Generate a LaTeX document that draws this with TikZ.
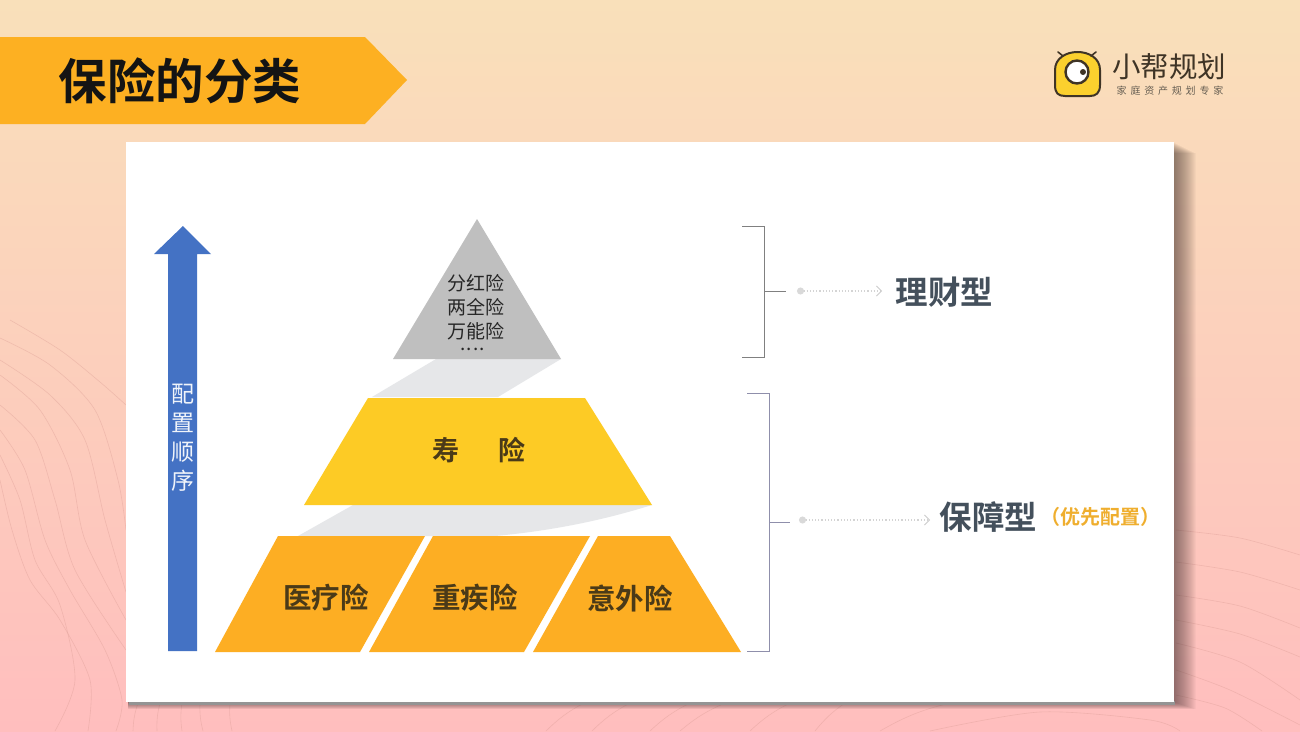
\documentclass[tikz,border=0pt]{standalone}
\usepackage{fontspec}
\setmainfont{Noto Sans CJK SC}
\newfontfamily\cjkreg{Noto Sans CJK SC}
\newfontfamily\cjkbold{Noto Sans CJK SC Bold}[BoldFont={Noto Sans CJK SC Bold}]
\newfontfamily\cjkspaced[LetterSpace=38]{Noto Sans CJK SC}
\usetikzlibrary{arrows.meta,calc}
\newcommand{\fsz}[1]{\fontsize{#1}{#1}\selectfont}
\definecolor{bannerc}{HTML}{FDB022}
\definecolor{orangec}{HTML}{FDAE23}
\definecolor{yellowc}{HTML}{FDCB25}
\definecolor{greyc}{HTML}{BFBFBF}
\definecolor{bandc}{HTML}{E6E7E9}
\definecolor{bluec}{HTML}{4472C4}
\definecolor{slatec}{HTML}{44505C}
\definecolor{amberc}{HTML}{EFAE2E}
\definecolor{inkc}{HTML}{4A3A18}
\definecolor{logoc}{HTML}{3F3426}
\definecolor{logoy}{HTML}{FBD02E}
\definecolor{wavec}{HTML}{D99A92}
\definecolor{bgtop}{HTML}{F9E0BA}
\definecolor{bgmid}{HTML}{FCD0B0}
\definecolor{bgbot}{HTML}{FFBEBE}
\definecolor{shadowc}{HTML}{3A2A2A}
\tikzset{
  x=1pt,y=-1pt,
  wave/.style={draw=wavec,line width=.6pt,opacity=.38},
  brack/.style={draw=#1,line width=.8pt},
  pointer/.style={draw=black!17,line width=1.2pt,dotted,{Circle[length=7pt,width=7pt,black!15]}-{Straight Barb[length=5pt,width=10pt,black!20,line width=.8pt]}},
  lab/.style={inner sep=0pt,text=inkc,font=\cjkbold\fsz{28.5}},
  small/.style={inner sep=0pt,text=black!85,font=\cjkreg\fsz{19}},
  side/.style={inner sep=0pt,text=slatec,font=\cjkbold\fsz{32.5}},
  vert/.style={inner sep=0pt,text=white!92!bluec,font=\cjkreg\fsz{23}},
}
\begin{document}
\begin{tikzpicture}
\useasboundingbox (0,0) rectangle (1300,731);
% background
\shade[top color=bgtop,middle color=bgmid,bottom color=bgbot] (0,0) rectangle (1300,731);
% waves left
\draw[wave] plot[smooth] coordinates {(10,320) (60,350) (100,382) (126,405)};
\draw[wave] plot[smooth] coordinates {(0,338) (50,365) (95,410) (118,480) (126,530)};
\draw[wave] plot[smooth] coordinates {(0,360) (50,395) (85,440) (105,520) (126,592)};
\draw[wave] plot[smooth] coordinates {(0,375) (40,410) (70,470) (85,540) (126,620)};
\draw[wave] plot[smooth] coordinates {(0,405) (35,440) (55,500) (75,570) (126,650)};
\draw[wave] plot[smooth] coordinates {(0,430) (25,470) (45,540) (70,590) (105,650) (122,700) (116,731)};
\draw[wave] plot[smooth] coordinates {(0,455) (20,500) (35,560) (60,605) (75,680) (55,731)};
\draw[wave] plot[smooth] coordinates {(0,480) (12,530) (30,580) (60,620) (90,680) (88,731)};
\foreach \a/\b in {138/133,160/157,182/182,200/203,230/232,584/546,630/592,690/650,725/680,790/750,845/815,950/880}{
  \draw[wave] (\a,703) to[bend right=8] (\b,731);}
% waves right
\draw[wave] plot[smooth] coordinates {(1176,530) (1240,538) (1300,555)};
\draw[wave] plot[smooth] coordinates {(1176,562) (1240,572) (1300,590)};
\draw[wave] plot[smooth] coordinates {(1176,595) (1240,606) (1300,628)};
\draw[wave] plot[smooth] coordinates {(1176,620) (1240,634) (1300,657)};
\draw[wave] plot[smooth] coordinates {(1176,643) (1240,662) (1300,700)};
\draw[wave] plot[smooth] coordinates {(1176,670) (1230,690) (1300,725)};
\draw[wave] plot[smooth] coordinates {(1176,695) (1225,708) (1262,731)};
\draw[wave] plot[smooth] coordinates {(930,731) (1040,712) (1150,720) (1180,731)};
% banner
\fill[bannerc] (0,37) -- (365,37) -- (407,80) -- (365,124) -- (0,124) -- cycle;
\node[inner sep=0pt,text=black!92,font=\cjkbold\fsz{48.5}] (title) at (180,81) {保险的分类};
% logo
\fill[logoy,draw=logoc,line width=2pt] (1055,70) .. controls (1055,46) and (1100,46) .. (1100,70) -- (1100,85) .. controls (1100,93) and (1096,96) .. (1090,96) -- (1065,96) .. controls (1058,96) and (1055,93) .. (1055,85) -- cycle;
\draw[logoc,line width=1.6pt,line cap=round] (1058,52) -- (1063,56) (1096,52) -- (1091,56);
\fill[white,draw=logoc,line width=2.4pt] (1077,72) circle (11.5);
\fill[logoc] (1083,72) circle (3);
\node[inner sep=0pt,text=logoc,font=\cjkreg\fsz{28.5}] (brand) at (1169,67) {小帮规划};
\node[inner sep=0pt,text=logoc!80,font=\cjkspaced\fsz{10}] (sub) at (1170,91) {家庭资产规划专家};
% card shadow
\foreach \i in {1,...,22}{
  \fill[shadowc,opacity=.032] (128,142+\i/2) rectangle (1174+\i,702+\i/3);}
\fill[black!42] (129,701) rectangle (1175,705);
\fill[white] (126,142) rectangle (1174,702);
% arrow
\fill[bluec] (168,651) -- (168,254) -- (154,254) -- (183,226) -- (211,254) -- (197,254) -- (197,651) -- cycle;
\node[vert] (v1) at (183,394) {配};
\node[vert] (v2) at (183,423) {置};
\node[vert] (v3) at (183,452) {顺};
\node[vert] (v4) at (183,481) {序};
% pyramid
\fill[bandc] (436,359) -- (561,359) -- (498,397) -- (372,397) -- cycle;
\fill[bandc] (353,505) -- (652,505) .. controls (610,518) and (560,530) .. (495,536) -- (298,536) -- cycle;
\fill[greyc] (477,219) -- (561,359) -- (393,359) -- cycle;
\fill[yellowc] (368,398) -- (585,398) -- (652,505) -- (304,505) -- cycle;
\fill[orangec] (278,536) -- (425,536) -- (360,652) -- (215,652) -- cycle;
\fill[orangec] (433,536) -- (590,536) -- (524,652) -- (369,652) -- cycle;
\fill[orangec] (598,536) -- (670,536) -- (741,652) -- (533,652) -- cycle;
\node[small] (t1) at (476,283) {分红险};
\node[small] (t2) at (476,307) {两全险};
\node[small] (t3) at (476,331) {万能险};
\node[inner sep=0pt,text=black!85,font=\cjkreg\fsz{19}] (t4) at (472.5,349.5) {.\hspace{1.2pt}.\hspace{1.2pt}.\hspace{1.2pt}.};
\node[lab,font=\cjkbold\fsz{27}] (shou) at (479,450) {寿\hspace{40pt}险};
\node[lab] (yl) at (326,598) {医疗险};
\node[lab] (zj) at (475,598) {重疾险};
\node[lab] (yw) at (630,598) {意外险};
% brackets
\coordinate (b1a) at (742,226); \coordinate (b1b) at (764,226);
\coordinate (b1c) at (764,357); \coordinate (b1d) at (742,357);
\coordinate (b1m) at (764,291); \coordinate (b1e) at (786,291);
\coordinate (p1a) at (797,291); \coordinate (p1b) at (882,291);
\draw[brack=black!50] (b1a) -- (b1b) -- (b1c) -- (b1d) (b1m) -- (b1e);
\draw[pointer] (p1a) -- (p1b);
\node[side,anchor=center] (lc) at (944.5,292) {理财型};
\coordinate (b2a) at (747,393); \coordinate (b2b) at (769,393);
\coordinate (b2c) at (769,651); \coordinate (b2d) at (747,651);
\coordinate (b2m) at (769,522); \coordinate (b2e) at (790,522);
\coordinate (p2a) at (799,520); \coordinate (p2b) at (930,520);
\draw[brack=black!38!blue!25!gray!70] (b2a) -- (b2b) -- (b2c) -- (b2d) (b2m) -- (b2e);
\draw[pointer] (p2a) -- (p2b);
\node[side] (bz) at (988.5,517) {保障型};
\node[inner sep=0pt,text=amberc,font=\cjkbold\fsz{20}] (yx) at (1100,517) {（优先配置）};
\end{tikzpicture}
\end{document}
